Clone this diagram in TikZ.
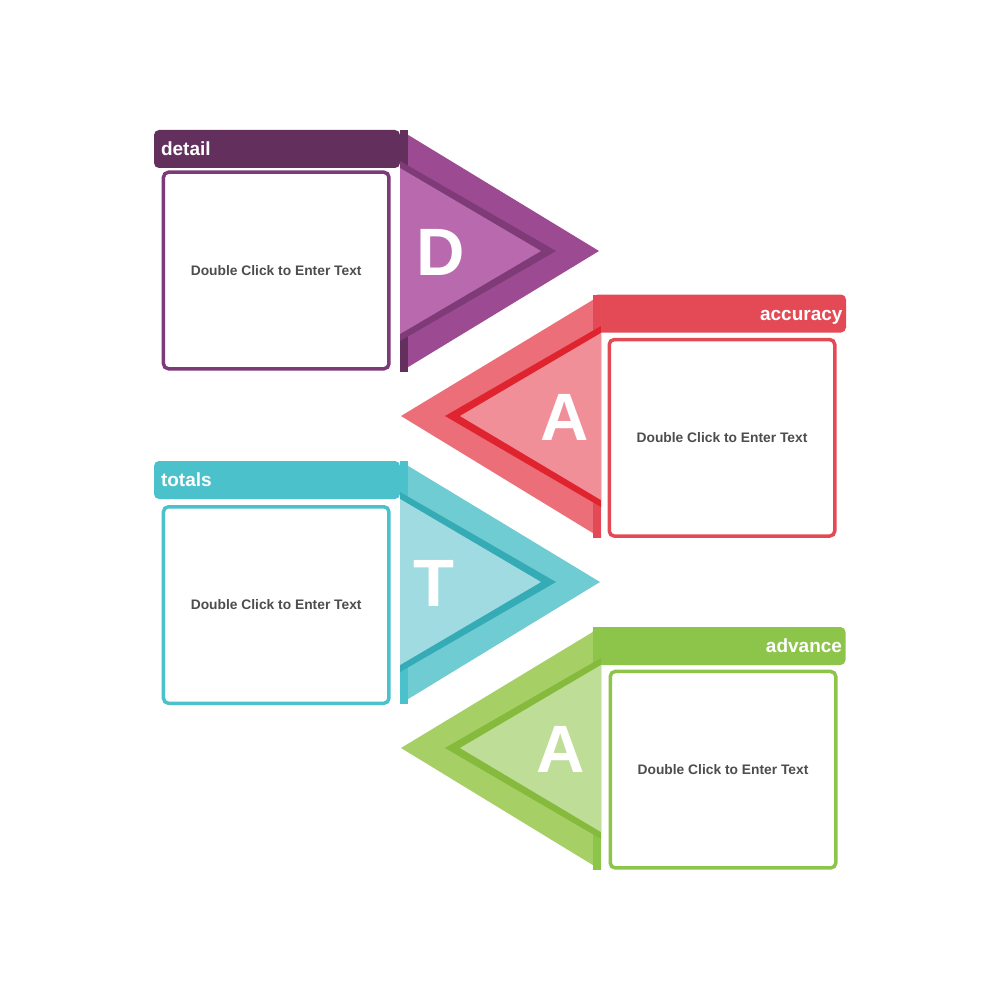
\documentclass[tikz,border=0pt]{standalone}
\usepackage{fontspec}
\setmainfont{Liberation Sans}
\definecolor{pHead}{HTML}{63305D}
\definecolor{pOut}{HTML}{9C4A91}
\definecolor{pDark}{HTML}{7E3B77}
\definecolor{pLight}{HTML}{B969AE}
\definecolor{pLine}{HTML}{7C3B78}
\definecolor{rHead}{HTML}{E44A55}
\definecolor{rOut}{HTML}{EB6E78}
\definecolor{rDark}{HTML}{E0242F}
\definecolor{rLight}{HTML}{F08F97}
\definecolor{tHead}{HTML}{4BC1CB}
\definecolor{tOut}{HTML}{6ECCD2}
\definecolor{tDark}{HTML}{34ABB5}
\definecolor{tLight}{HTML}{A0DBE1}
\definecolor{gHead}{HTML}{8DC44A}
\definecolor{gOut}{HTML}{A6CF66}
\definecolor{gDark}{HTML}{85BA3C}
\definecolor{gLight}{HTML}{BEDD96}
\definecolor{txtGray}{HTML}{4D4D4D}

\begin{document}
\begin{tikzpicture}[x=1pt,y=-1pt,
	headL/.style={minimum height=38pt,rounded corners=5pt,inner xsep=7pt,text width=232pt,align=left,
		text height=13.6pt,text depth=0pt,text=white,font=\bfseries\fontsize{19}{22}\selectfont},
	headR/.style={headL,inner xsep=3.5pt,text width=246pt,align=right},
	txtBox/.style={draw,fill=white,line width=3.5pt,rounded corners=5pt,minimum width=225.5pt,minimum height=196.5pt,
		text=txtGray,font=\bfseries\fontsize{13.8}{16}\selectfont},
	letter/.style={inner sep=0pt,text height=48pt,text depth=0pt,text=white,font=\bfseries\fontsize{67}{70}\selectfont}]
	\useasboundingbox (0,0) rectangle (1000,1000);
	
	% D - detail
	\node[headL,fill=pHead] (detailHead) at (277,149) {detail};
	\fill[pOut] (400,130) -- (599,251) -- (400,372) -- cycle;
	\fill[pHead] (400,130) rectangle (408,372);
	\fill[pDark] (400,161) -- (556,251) -- (400,341) -- cycle;
	\fill[pLight] (400,168) -- (541,251) -- (400,334) -- cycle;
	\node[letter] (detailLetter) at (440.5,251) {D};
	\node[txtBox,draw=pLine] (detailBox) at (276.2,270.5) {Double Click to Enter Text};
	
	% A - accuracy
	\node[headR,fill=rHead] (accuracyHead) at (719.5,313.5) {accuracy};
	\fill[rOut] (601,295) -- (401,416) -- (601,538) -- cycle;
	\fill[rHead] (593,295) rectangle (601,538);
	\fill[rDark] (601,326) -- (445,416) -- (601,507) -- cycle;
	\fill[rLight] (601,333) -- (460,416) -- (601,500) -- cycle;
	\node[letter] (accuracyLetter) at (565,416) {A};
	\node[txtBox,draw=rHead] (accuracyBox) at (722,437.8) {Double Click to Enter Text};
	
	% T - totals
	\node[headL,fill=tHead] (totalsHead) at (277,480) {totals};
	\fill[tOut] (400,461) -- (600,582) -- (400,704) -- cycle;
	\fill[tHead] (400,461) rectangle (408,704);
	\fill[tDark] (400,492) -- (556,582) -- (400,672) -- cycle;
	\fill[tLight] (400,499) -- (541,582) -- (400,665) -- cycle;
	\node[letter] (totalsLetter) at (434,582) {T};
	\node[txtBox,draw=tHead] (totalsBox) at (276.2,605) {Double Click to Enter Text};
	
	% A - advance
	\node[headR,fill=gHead] (advanceHead) at (719,646) {advance};
	\fill[gOut] (601,627) -- (401,748) -- (601,870) -- cycle;
	\fill[gHead] (593,627) rectangle (601,870);
	\fill[gDark] (601,658) -- (445,748) -- (601,839) -- cycle;
	\fill[gLight] (601,665) -- (460,748) -- (601,832) -- cycle;
	\node[letter] (advanceLetter) at (561,748) {A};
	\node[txtBox,draw=gHead] (advanceBox) at (723,769.7) {Double Click to Enter Text};
\end{tikzpicture}
\end{document}
